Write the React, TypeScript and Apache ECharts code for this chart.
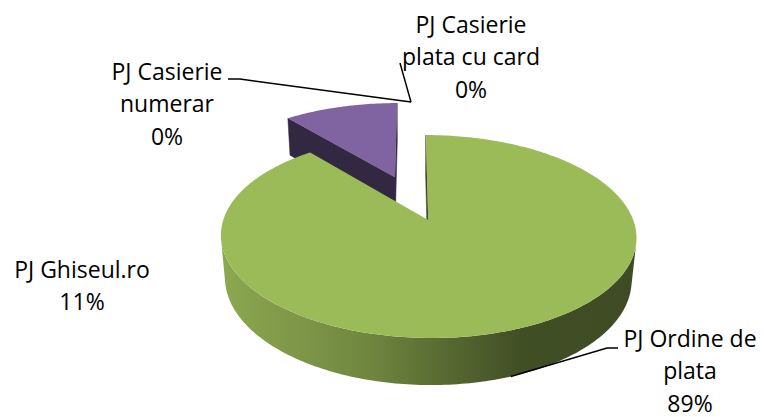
import { useEffect, useRef } from "react";
import * as echarts from "echarts";

// ---------------- data ----------------
const categories = [
  "PJ Casierie numerar",
  "PJ Casierie plata cu card",
  "PJ Ordine de plata",
  "PJ Ghiseul.ro",
];
const values = [0, 0, 89, 11];
const sliceColors = ["#4F81BD", "#C0504D", "#9BBB59", "#8064A2"];

// ---------------- view / layout ----------------
const VIEW = {
  cx: 411,
  cy: 220,
  F: 1105,
  D: 5.39,
  tilt: 28.8,
  depth: 0.239,
  explode: 0.248,
  pieX: 0,
  pieZ: 0.233,
};

const LABELS = [
  { x: 167, y: 103, wrap: 150, elbow: [[228, 79], [240, 79]], anchorY: 0 },
  { x: 471, y: 56, wrap: 150, elbow: [[400, 63]], anchorY: 0 },
  { x: 690, y: 370, wrap: 150, elbow: [[618, 348], [607, 348]], anchorY: -1 },
  { x: 82, y: 285, wrap: 150, elbow: null as null | number[][], anchorY: 0 },
];

const FONT_FAMILY = "'Open Sans', 'Noto Sans', sans-serif";
const FONT_SIZE = 23;
const LINE_HEIGHT = 32.5;

// ---------------- geometry ----------------
const rad = (d: number) => (d * Math.PI) / 180;
const total = values.reduce((s, v) => s + v, 0);
const starts: number[] = [];
{
  let acc = 0;
  values.forEach((v) => {
    starts.push((acc / total) * 360);
    acc += v;
  });
}
const S = Math.sin(rad(VIEW.tilt));
const C = Math.cos(rad(VIEW.tilt));

function project(X: number, Y: number, Z: number): number[] {
  const yc = Y * C + Z * S;
  const zc = -Y * S + Z * C + VIEW.D;
  return [VIEW.cx + (VIEW.F * X) / zc, VIEW.cy - (VIEW.F * yc) / zc];
}

function sliceGeom(i: number) {
  const a = starts[i];
  const b = a + (values[i] / total) * 360;
  const m = (a + b) / 2;
  const ox = VIEW.pieX + VIEW.explode * Math.sin(rad(m));
  const oz = VIEW.pieZ + VIEW.explode * Math.cos(rad(m));
  return { a, b, m, ox, oz };
}

function rim(g: { ox: number; oz: number }, t: number, Y: number) {
  return project(g.ox + Math.sin(rad(t)), Y, g.oz + Math.cos(rad(t)));
}

function shade(hex: string, k: number) {
  const n = parseInt(hex.slice(1), 16);
  const r = (n >> 16) & 255,
    gg = (n >> 8) & 255,
    b = n & 255;
  return `rgb(${Math.round(r * k)},${Math.round(gg * k)},${Math.round(b * k)})`;
}

const drawOrder = values
  .map((_, i) => i)
  .sort((p, q) => sliceGeom(q).oz - sliceGeom(p).oz);

function renderSlice(i: number) {
  const children: any[] = [];
  if (!(values[i] > 0)) return { type: "group", children };
  const g = sliceGeom(i);
  const base = drawOrder.indexOf(i) * 10;
  const h = VIEW.depth;
  const color = sliceColors[i];
  const camX = 0,
    camZ = -VIEW.D * C;

  // radial walls
  const walls = [
    { t: g.a, n: [-Math.cos(rad(g.a)), Math.sin(rad(g.a))] },
    { t: g.b, n: [Math.cos(rad(g.b)), -Math.sin(rad(g.b))] },
  ];
  if (g.b - g.a < 360) {
    walls.forEach((w) => {
      const dot = w.n[0] * (camX - g.ox) + w.n[1] * (camZ - g.oz);
      if (dot > 0.001) {
        children.push({
          type: "polygon",
          z2: base + 1,
          shape: {
            points: [
              project(g.ox, 0, g.oz),
              rim(g, w.t, 0),
              rim(g, w.t, -h),
              project(g.ox, -h, g.oz),
            ],
          },
          style: { fill: shade(color, 0.4), stroke: shade(color, 0.4), lineWidth: 0.5 },
        });
      }
    });
  }

  // outer wall (front-facing runs)
  const steps = Math.max(2, Math.ceil(g.b - g.a));
  const ts: number[] = [];
  for (let k = 0; k <= steps; k++) ts.push(g.a + ((g.b - g.a) * k) / steps);
  const vis = (t: number) =>
    -g.ox * Math.sin(rad(t)) - (VIEW.D * C + g.oz) * Math.cos(rad(t)) - 1 > -0.03;
  let run: number[] = [];
  const flush = () => {
    if (run.length >= 2) {
      const topPts = run.map((t) => rim(g, t, 0));
      const botPts = run.map((t) => rim(g, t, -h)).reverse();
      const pts = topPts.concat(botPts);
      const xs = pts.map((p) => p[0]);
      const x0 = Math.min(...xs),
        x1 = Math.max(...xs);
      children.push({
        type: "polygon",
        z2: base + 2,
        shape: { points: pts },
        style: {
          fill: {
            type: "linear",
            x: x0,
            y: 0,
            x2: x1,
            y2: 0,
            global: true,
            colorStops: [
              { offset: 0, color: shade(color, 0.9) },
              { offset: 0.35, color: shade(color, 0.72) },
              { offset: 0.72, color: shade(color, 0.42) },
              { offset: 1, color: shade(color, 0.4) },
            ],
          },
        },
      });
    }
    run = [];
  };
  ts.forEach((t) => {
    if (vis(t)) run.push(t);
    else flush();
  });
  flush();

  // top face
  const topPts: number[][] = [];
  if (g.b - g.a < 360) topPts.push(project(g.ox, 0, g.oz));
  ts.forEach((t) => topPts.push(rim(g, t, 0)));
  children.push({
    type: "polygon",
    z2: base + 3,
    shape: { points: topPts },
    style: { fill: color },
  });

  return { type: "group", children };
}

// greedy word wrap using canvas text measurement
let measureCtx: CanvasRenderingContext2D | null = null;
function wrapText(text: string, maxW: number): string[] {
  if (!measureCtx) {
    measureCtx = document.createElement("canvas").getContext("2d");
  }
  const ctx = measureCtx!;
  ctx.font = `${FONT_SIZE}px ${FONT_FAMILY}`;
  const words = text.split(" ");
  const lines: string[] = [];
  let cur = "";
  words.forEach((w) => {
    const cand = cur ? cur + " " + w : w;
    if (cur && ctx.measureText(cand).width > maxW) {
      lines.push(cur);
      cur = w;
    } else cur = cand;
  });
  if (cur) lines.push(cur);
  return lines;
}

function buildLabels() {
  const els: any[] = [];
  values.forEach((v, i) => {
    const L = LABELS[i];
    const pct = Math.round((v / total) * 100) + "%";
    const lines = wrapText(categories[i], L.wrap).concat([pct]);
    lines.forEach((line, k) => {
      els.push({
        type: "text",
        z: 10,
        style: {
          text: line,
          x: L.x,
          y: L.y + (k - (lines.length - 1) / 2) * LINE_HEIGHT,
          fill: "#000000",
          fontFamily: FONT_FAMILY,
          fontSize: FONT_SIZE,
          lineHeight: FONT_SIZE,
          align: "center",
          verticalAlign: "middle",
          textAlign: "center",
          textVerticalAlign: "middle",
        },
      });
    });
    if (L.elbow) {
      const g = sliceGeom(i);
      const anchor = rim(g, g.m, L.anchorY * VIEW.depth);
      els.push({
        type: "polyline",
        z: 10,
        shape: { points: [...L.elbow, anchor] },
        style: { stroke: "#000000", lineWidth: 1.5, fill: null },
      });
    }
  });
  return els;
}

export default function App() {
  const ref = useRef<HTMLDivElement>(null);
  useEffect(() => {
    if (!ref.current) return;
    const chart = echarts.init(ref.current, undefined, { renderer: "svg" });
    chart.setOption({
      animation: false,
      backgroundColor: "#ffffff",
      series: [
        {
          type: "custom",
          coordinateSystem: "none",
          silent: true,
          data: values.map((v, i) => ({ name: categories[i], value: v })),
          renderItem: (params: any) => renderSlice(params.dataIndex),
        },
      ],
      graphic: buildLabels(),
    });
    return () => chart.dispose();
  }, []);
  return (
    <div
      ref={ref}
      style={{ position: "fixed", left: 0, top: 0, width: 764, height: 417 }}
    />
  );
}
